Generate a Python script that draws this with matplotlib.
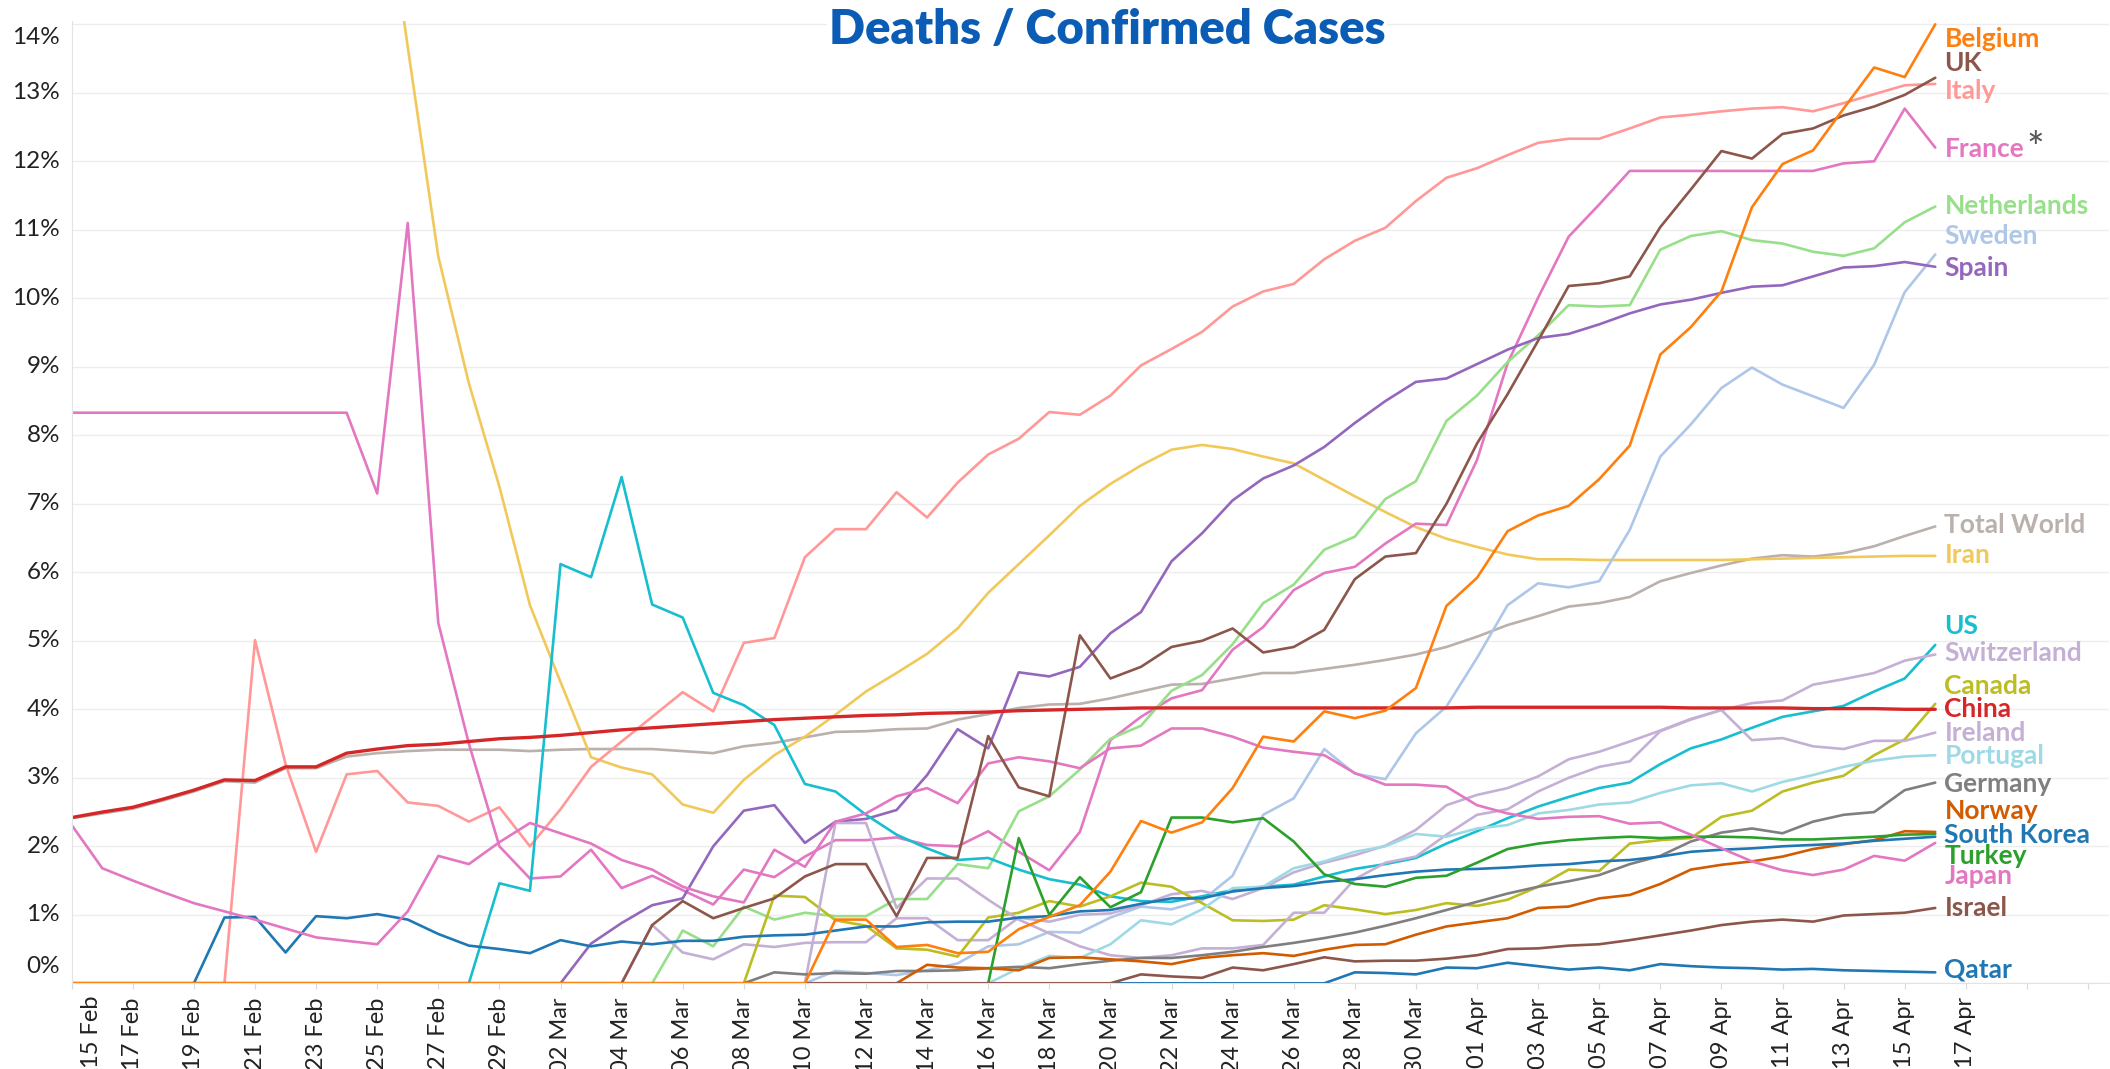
import numpy as np
import pandas as pd
import matplotlib

matplotlib.use("Agg")
import matplotlib.pyplot as plt
import matplotlib.dates as mdates
from matplotlib.transforms import blended_transform_factory

plt.rcParams["font.family"] = ["Lato", "DejaVu Sans"]

# one value per day, 15 Feb .. 16 Apr 2020 (deaths / confirmed, in %)
dates = pd.date_range("2020-02-15", "2020-04-16", freq="D")

china = [2.42, 2.50, 2.57, 2.69, 2.82, 2.97, 2.96, 3.16, 3.16, 3.36, 3.42, 3.47, 3.49, 3.53, 3.57, 3.59,
         3.62, 3.66, 3.70, 3.73, 3.76, 3.79, 3.82, 3.85, 3.87, 3.89, 3.91, 3.92, 3.94, 3.95, 3.96, 3.98,
         3.99, 4.00, 4.01, 4.02, 4.02, 4.02, 4.02, 4.02, 4.02, 4.02, 4.02, 4.02, 4.02, 4.02, 4.03, 4.03,
         4.03, 4.03, 4.03, 4.03, 4.03, 4.02, 4.02, 4.02, 4.02, 4.01, 4.01, 4.01, 4.00, 4.00]
world = [2.41, 2.48, 2.55, 2.67, 2.80, 2.95, 2.93, 3.14, 3.14, 3.31, 3.36, 3.39, 3.41, 3.41, 3.41, 3.39,
         3.41, 3.42, 3.42, 3.42, 3.39, 3.36, 3.46, 3.51, 3.59, 3.67, 3.68, 3.71, 3.72, 3.85, 3.93, 4.02,
         4.07, 4.08, 4.16, 4.26, 4.36, 4.37, 4.45, 4.53, 4.53, 4.59, 4.65, 4.72, 4.80, 4.91, 5.06, 5.23,
         5.36, 5.50, 5.55, 5.64, 5.87, 5.99, 6.10, 6.20, 6.25, 6.23, 6.28, 6.38, 6.53, 6.67]
iran = [np.nan] * 10 + [16.8, 13.67, 10.61, 8.76, 7.25, 5.52, 4.40, 3.30, 3.15, 3.05, 2.61, 2.49, 2.97,
        3.33, 3.60, 3.92, 4.26, 4.53, 4.81, 5.18, 5.70, 6.12, 6.54, 6.97, 7.29, 7.56, 7.79, 7.86, 7.80,
        7.69, 7.59, 7.35, 7.11, 6.88, 6.66, 6.49, 6.37, 6.26, 6.19, 6.19, 6.18, 6.18, 6.18, 6.18, 6.18,
        6.19, 6.20, 6.21, 6.22, 6.23, 6.24, 6.24]
italy = [0] * 6 + [5.01, 3.20, 1.92, 3.05, 3.10, 2.64, 2.59, 2.36, 2.57, 2.00, 2.54, 3.16, 3.53, 3.89,
         4.25, 3.97, 4.97, 5.04, 6.22, 6.63, 6.63, 7.17, 6.80, 7.31, 7.72, 7.95, 8.34, 8.30, 8.58, 9.02,
         9.26, 9.51, 9.88, 10.10, 10.21, 10.57, 10.84, 11.03, 11.42, 11.76, 11.90, 12.09, 12.27, 12.33,
         12.33, 12.48, 12.64, 12.68, 12.73, 12.77, 12.79, 12.73, 12.85, 12.98, 13.11, 13.13]
france = [8.33] * 10 + [7.15, 11.1, 5.26, 3.50, 2.00, 1.53, 1.56, 1.95, 1.39, 1.57, 1.36, 1.15, 1.66,
          1.55, 1.85, 2.09, 2.09, 2.13, 2.02, 2.00, 2.22, 1.92, 1.65, 2.21, 3.55, 3.89, 4.16, 4.28, 4.87,
          5.20, 5.74, 5.99, 6.08, 6.42, 6.71, 6.69, 7.64, 9.05, 10.01, 10.90, 11.37, 11.86, 11.86, 11.86,
          11.86, 11.86, 11.86, 11.86, 11.97, 12.00, 12.77, 12.20]
japan = [2.31, 1.68, 1.50, 1.33, 1.17, 1.05, 0.93, 0.80, 0.67, 0.62, 0.57, 1.05, 1.86, 1.74, 2.06, 2.34,
         2.19, 2.04, 1.80, 1.66, 1.41, 1.27, 1.18, 1.95, 1.70, 2.36, 2.48, 2.73, 2.85, 2.63, 3.21, 3.30,
         3.24, 3.14, 3.43, 3.47, 3.72, 3.72, 3.60, 3.44, 3.38, 3.33, 3.07, 2.90, 2.90, 2.87, 2.60, 2.48,
         2.40, 2.43, 2.44, 2.33, 2.35, 2.17, 1.97, 1.78, 1.65, 1.58, 1.66, 1.86, 1.79, 2.05]
south_korea = [0] * 5 + [0.96, 0.97, 0.45, 0.98, 0.95, 1.01, 0.93, 0.72, 0.55, 0.50, 0.44, 0.63, 0.54,
               0.61, 0.57, 0.62, 0.62, 0.68, 0.70, 0.71, 0.77, 0.83, 0.83, 0.89, 0.90, 0.90, 0.96, 0.98,
               1.05, 1.07, 1.16, 1.24, 1.24, 1.34, 1.39, 1.42, 1.48, 1.52, 1.58, 1.63, 1.66, 1.67, 1.69,
               1.72, 1.74, 1.78, 1.80, 1.85, 1.92, 1.95, 1.97, 2.00, 2.02, 2.04, 2.08, 2.11, 2.14]
us = [0] * 14 + [1.46, 1.35, 6.12, 5.93, 7.39, 5.53, 5.34, 4.24, 4.06, 3.77, 2.91, 2.80, 2.46, 2.17, 1.97,
      1.80, 1.83, 1.66, 1.52, 1.44, 1.27, 1.20, 1.19, 1.27, 1.36, 1.41, 1.44, 1.56, 1.67, 1.74, 1.83,
      2.04, 2.22, 2.41, 2.58, 2.72, 2.85, 2.93, 3.20, 3.43, 3.56, 3.73, 3.89, 3.97, 4.05, 4.26, 4.45, 4.94]
belgium = [0] * 25 + [0.93, 0.93, 0.53, 0.56, 0.44, 0.46, 0.79, 0.97, 1.14, 1.63, 2.37, 2.20, 2.35, 2.85,
           3.60, 3.53, 3.97, 3.87, 3.98, 4.31, 5.51, 5.92, 6.60, 6.83, 6.97, 7.36, 7.85, 9.18, 9.58, 10.10,
           11.33, 11.96, 12.16, 12.77, 13.37, 13.23, 14.00]
uk = [0] * 19 + [0.85, 1.20, 0.95, 1.10, 1.24, 1.56, 1.74, 1.74, 0.98, 1.83, 1.83, 3.61, 2.86, 2.73, 5.08,
      4.45, 4.62, 4.91, 5.00, 5.18, 4.83, 4.91, 5.16, 5.90, 6.23, 6.28, 7.00, 7.88, 8.60, 9.38, 10.18,
      10.22, 10.32, 11.04, 11.59, 12.15, 12.04, 12.40, 12.48, 12.67, 12.80, 12.97, 13.22]
spain = [0] * 17 + [0.58, 0.88, 1.14, 1.24, 2.00, 2.52, 2.60, 2.05, 2.36, 2.40, 2.53, 3.04, 3.71, 3.43,
         4.54, 4.48, 4.62, 5.11, 5.42, 6.16, 6.57, 7.05, 7.37, 7.56, 7.83, 8.18, 8.50, 8.78, 8.83, 9.04,
         9.25, 9.42, 9.48, 9.62, 9.78, 9.91, 9.98, 10.08, 10.17, 10.19, 10.32, 10.45, 10.47, 10.53, 10.46]
netherlands = [0] * 20 + [0.77, 0.54, 1.12, 0.93, 1.03, 0.98, 0.98, 1.23, 1.23, 1.74, 1.68, 2.51, 2.73,
               3.12, 3.57, 3.76, 4.27, 4.50, 4.95, 5.55, 5.82, 6.33, 6.52, 7.07, 7.33, 8.21, 8.58, 9.07,
               9.46, 9.90, 9.88, 9.90, 10.71, 10.91, 10.98, 10.85, 10.80, 10.68, 10.62, 10.73, 11.11, 11.34]
sweden = [0] * 25 + [0.18, 0.15, 0.12, 0.19, 0.29, 0.54, 0.57, 0.75, 0.74, 0.96, 1.12, 1.08, 1.21, 1.57,
          2.46, 2.70, 3.42, 3.06, 2.98, 3.65, 4.04, 4.75, 5.52, 5.84, 5.78, 5.87, 6.62, 7.69, 8.16, 8.69,
          8.99, 8.74, 8.57, 8.40, 9.03, 10.09, 10.64]
switzerland = [0] * 19 + [0.85, 0.45, 0.35, 0.57, 0.53, 0.59, 0.60, 0.60, 0.95, 0.95, 0.63, 0.63, 0.96,
               0.90, 1.00, 1.02, 1.14, 1.30, 1.35, 1.23, 1.39, 1.62, 1.76, 1.87, 2.01, 2.24, 2.60, 2.75,
               2.85, 3.02, 3.27, 3.38, 3.53, 3.69, 3.86, 3.99, 4.09, 4.13, 4.36, 4.44, 4.53, 4.71, 4.80]
ireland = [0] * 25 + [2.34, 2.34, 1.10, 1.53, 1.53, 1.22, 0.93, 0.73, 0.54, 0.41, 0.37, 0.41, 0.51, 0.51,
           0.56, 1.03, 1.03, 1.52, 1.76, 1.85, 2.17, 2.46, 2.54, 2.80, 3.00, 3.16, 3.24, 3.68, 3.85, 3.99,
           3.55, 3.58, 3.46, 3.42, 3.54, 3.54, 3.66]
canada = [0] * 23 + [1.28, 1.26, 0.92, 0.84, 0.51, 0.49, 0.39, 0.96, 1.03, 1.20, 1.12, 1.27, 1.47, 1.41,
          1.17, 0.92, 0.91, 0.93, 1.14, 1.08, 1.01, 1.07, 1.17, 1.13, 1.22, 1.41, 1.66, 1.64, 2.04, 2.09,
          2.12, 2.43, 2.52, 2.80, 2.93, 3.03, 3.33, 3.56, 4.08]
portugal = [0] * 31 + [0.22, 0.40, 0.37, 0.57, 0.92, 0.86, 1.08, 1.39, 1.41, 1.68, 1.78, 1.92, 2.00, 2.18,
            2.14, 2.26, 2.31, 2.48, 2.53, 2.61, 2.64, 2.78, 2.89, 2.92, 2.80, 2.94, 3.04, 3.16, 3.25,
            3.31, 3.33]
germany = [0] * 23 + [0.16, 0.13, 0.15, 0.14, 0.18, 0.18, 0.19, 0.22, 0.24, 0.22, 0.28, 0.33, 0.37, 0.37,
           0.41, 0.46, 0.53, 0.59, 0.66, 0.74, 0.84, 0.95, 1.07, 1.19, 1.31, 1.41, 1.49, 1.58, 1.74,
           1.86, 2.07, 2.20, 2.26, 2.19, 2.36, 2.46, 2.50, 2.82, 2.93]
norway = [0] * 28 + [0.27, 0.23, 0.22, 0.19, 0.37, 0.38, 0.35, 0.32, 0.28, 0.37, 0.41, 0.44, 0.40, 0.49,
          0.56, 0.57, 0.71, 0.83, 0.89, 0.95, 1.10, 1.12, 1.24, 1.29, 1.45, 1.66, 1.73, 1.78, 1.85, 1.96,
          2.03, 2.09, 2.22, 2.21]
turkey = [0] * 31 + [2.12, 1.00, 1.55, 1.11, 1.33, 2.42, 2.42, 2.35, 2.41, 2.07, 1.59, 1.45, 1.41, 1.54,
          1.57, 1.76, 1.96, 2.04, 2.09, 2.12, 2.14, 2.12, 2.14, 2.14, 2.13, 2.10, 2.10, 2.12, 2.14, 2.17,
          2.18]
israel = [0] * 35 + [0.13, 0.10, 0.08, 0.23, 0.19, 0.28, 0.38, 0.32, 0.33, 0.33, 0.36, 0.41, 0.50, 0.51,
          0.55, 0.57, 0.63, 0.70, 0.77, 0.85, 0.90, 0.93, 0.90, 0.99, 1.01, 1.03, 1.10]
qatar = [0] * 42 + [0.16, 0.15, 0.13, 0.23, 0.22, 0.30, 0.25, 0.20, 0.23, 0.19, 0.28, 0.25, 0.23, 0.22,
         0.20, 0.21, 0.19, 0.18, 0.17, 0.16]

# name, values, colour, y of the end label (%), drawing order = list order
series = [
    ("Total World", world, "#bab0ac", 6.69),
    ("Iran", iran, "#f1c85a", 6.26),
    ("Italy", italy, "#ff9896", 13.03),
    ("France", france, "#e377c2", 12.18),
    ("Netherlands", netherlands, "#98df8a", 11.35),
    ("Sweden", sweden, "#aec7e8", 10.91),
    ("Spain", spain, "#9467bd", 10.44),
    ("US", us, "#17becf", 5.21),
    ("Switzerland", switzerland, "#c5b0d5", 4.82),
    ("Canada", canada, "#bcbd22", 4.34),
    ("Ireland", ireland, "#c5b0d5", 3.65),
    ("Portugal", portugal, "#9edae5", 3.32),
    ("Germany", germany, "#7f7f7f", 2.91),
    ("Norway", norway, "#d25b00", 2.52),
    ("South Korea", south_korea, "#1f77b4", 2.16),
    ("Turkey", turkey, "#2ca02c", 1.86),
    ("Japan", japan, "#e377c2", 1.56),
    ("UK", uk, "#8c564b", 13.44),
    ("China", china, "#d62728", 4.01),
    ("Qatar", qatar, "#1f77b4", 0.20),
    ("Israel", israel, "#8c564b", 1.10),
    ("Belgium", belgium, "#ff7f0e", 13.78),
]

W, H = 2110, 1069
fig = plt.figure(figsize=(W / 100, H / 100), dpi=100)
ax = fig.add_axes([71.7 / W, (H - 983.3) / H, 2037.7 / W, (983.3 - 20.9) / H])

for name, vals, color, _ in series:
    assert len(vals) == len(dates), name
    lw = 2.4 if name == "China" else 1.9
    ax.plot(dates, vals, color=color, lw=lw, solid_joinstyle="round", solid_capstyle="round")

start = dates[0]
ax.set_xlim(start, start + pd.Timedelta(days=66.7))
ax.set_ylim(0, 14.05)

# x axis: every second day; the first label is nudged inside, the last two ticks carry none
ticks = pd.date_range(start, periods=34, freq="2D")
labels = [t.strftime("%d %b") for t in ticks]
first_label = labels[0]
labels[0] = ""
labels[-2:] = ["", ""]
ax.set_xticks(ticks)
ax.set_xticklabels(labels, rotation=90, fontsize=17, color="#222222")
ax.tick_params(axis="x", length=4, color="#d9d9d9", pad=6)
ax.annotate(first_label, xy=(start, 0), xycoords=("data", "axes fraction"),
            xytext=(14, -8.9), textcoords="offset points", rotation=90,
            ha="center", va="top", fontsize=17, color="#222222")

# y axis: gridlines only, labels drawn by hand so the edge ones sit inside
ax.set_yticks(range(15))
ax.set_yticklabels([])
ax.tick_params(axis="y", length=0)
ax.grid(axis="y", color="#ededed", lw=1.0)
ax.set_axisbelow(True)
ylab = blended_transform_factory(ax.transAxes, ax.transData)
for v in range(15):
    pos = {0: 0.25, 14: 13.81}.get(v, v)
    ax.text(-0.0057, pos, f"{v}%", transform=ylab, ha="right", va="center",
            fontsize=17.5, color="#222222")

for side in ("top", "right"):
    ax.spines[side].set_visible(False)
for side in ("left", "bottom"):
    ax.spines[side].set_color("#e3e3e3")

# end labels
lx = mdates.date2num(dates[-1]) + 0.3
texts = {}
for name, vals, color, ly in series:
    texts[name] = ax.text(lx, ly, name, color=color, fontsize=19, fontweight="bold",
                          ha="left", va="center", clip_on=False)

fig.canvas.draw()
bb = texts["France"].get_window_extent()
fig.text((bb.x1 + 2) / W, (bb.y1 + 6) / H, "*", color="#555555", fontsize=30,
         ha="left", va="top")

fig.text(1107 / W, 1 - 30 / H, "Deaths / Confirmed Cases", ha="center", va="center",
         fontsize=34, fontweight="heavy", color="#0b5cb5",
         bbox=dict(facecolor="white", edgecolor="none", pad=1))

fig.savefig("out.png", dpi=100)
